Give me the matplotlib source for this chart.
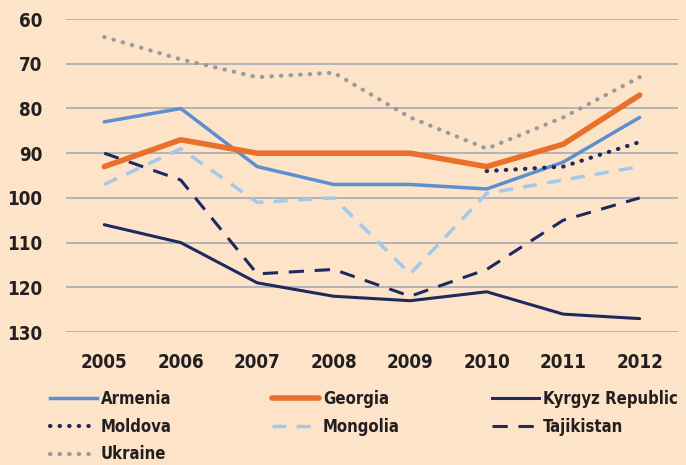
import matplotlib
matplotlib.use("Agg")
import matplotlib.pyplot as plt
from matplotlib.lines import Line2D

years = [2005, 2006, 2007, 2008, 2009, 2010, 2011, 2012]
armenia = [83, 80, 93, 97, 97, 98, 92, 82]
georgia = [93, 87, 90, 90, 90, 93, 88, 77]
kyrgyz = [106, 110, 119, 122, 123, 121, 126, 127]
moldova_years = [2010, 2011, 2012]
moldova = [94, 93, 87.5]
mongolia = [97, 89, 101, 100, 117, 99, 96, 93]
tajikistan = [90, 96, 117, 116, 122, 116, 105, 100]
ukraine = [64, 69, 73, 72, 82, 89, 82, 73]
yticks = [60, 70, 80, 90, 100, 110, 120, 130]

bg = "#FDE4C8"
navy = "#1E2A5E"
txt = "#231F20"
plt.rcParams['font.family'] = ['DejaVu Sans']
plt.rcParams['font.stretch'] = 'condensed'
plt.rcParams['font.weight'] = 'bold'

fig = plt.figure(figsize=(6.86, 4.65), dpi=100, facecolor=bg)
ax = fig.add_axes([0.0962, 0.286, 0.892, 0.673], facecolor=bg)

dot = (0, (0.1, 2.2))
ax.plot(years, ukraine, color="#9A9A9A", lw=3, linestyle=dot, dash_capstyle='round')
ax.plot(years, mongolia, color="#A3C8EC", lw=2.5, linestyle=(0, (4, 3)))
ax.plot(years, tajikistan, color=navy, lw=2.2, linestyle=(0, (5, 3.5)))
ax.plot(years, kyrgyz, color=navy, lw=2.2, solid_capstyle='round')
ax.plot(years, armenia, color="#5B8FD0", lw=2.5, solid_capstyle='round')
ax.plot(moldova_years, moldova, color=navy, lw=3, linestyle=dot, dash_capstyle='round')
ax.plot(years, georgia, color="#E8702A", lw=4, solid_capstyle='round')

ax.set_xlim(2004.5, 2012.5)
ax.set_ylim(130, 60)
ax.set_yticks(yticks)
ax.set_xticks(years)
ax.set_xticklabels([str(y) for y in years])
ax.grid(axis='y', color="#A7ABB5", lw=1.2)
ax.set_axisbelow(True)
for s in ax.spines.values():
    s.set_visible(False)
ax.tick_params(axis='both', length=0, labelsize=13.5, colors=txt)
ax.tick_params(axis='y', pad=17)
ax.tick_params(axis='x', pad=15)

h_arm = Line2D([], [], color="#5B8FD0", lw=2.5)
h_geo = Line2D([], [], color="#E8702A", lw=4, solid_capstyle='round')
h_kyr = Line2D([], [], color=navy, lw=2.2)
h_mol = Line2D([], [], color=navy, lw=3, linestyle=dot, dash_capstyle='round')
h_mon = Line2D([], [], color="#A3C8EC", lw=2.5, linestyle=(0, (4, 3)))
h_taj = Line2D([], [], color=navy, lw=2.2, linestyle=(0, (5, 3.5)))
h_ukr = Line2D([], [], color="#9A9A9A", lw=3, linestyle=dot, dash_capstyle='round')

cols = [
    ([h_arm, h_mol, h_ukr], ["Armenia", "Moldova", "Ukraine"], 50),
    ([h_geo, h_mon], ["Georgia", "Mongolia"], 272),
    ([h_kyr, h_taj], ["Kyrgyz Republic", "Tajikistan"], 492),
]
for hs, ls, xpx in cols:
    leg = fig.legend(hs, ls, loc='upper left', bbox_to_anchor=(xpx / 686, 1 - 390 / 465),
                     frameon=False, fontsize=12, handlelength=2.8, handletextpad=0.25,
                     labelspacing=0.58, borderaxespad=0, borderpad=0)
    for t in leg.get_texts():
        t.set_color(txt)

fig.savefig("out.png", dpi=100, facecolor=bg)
